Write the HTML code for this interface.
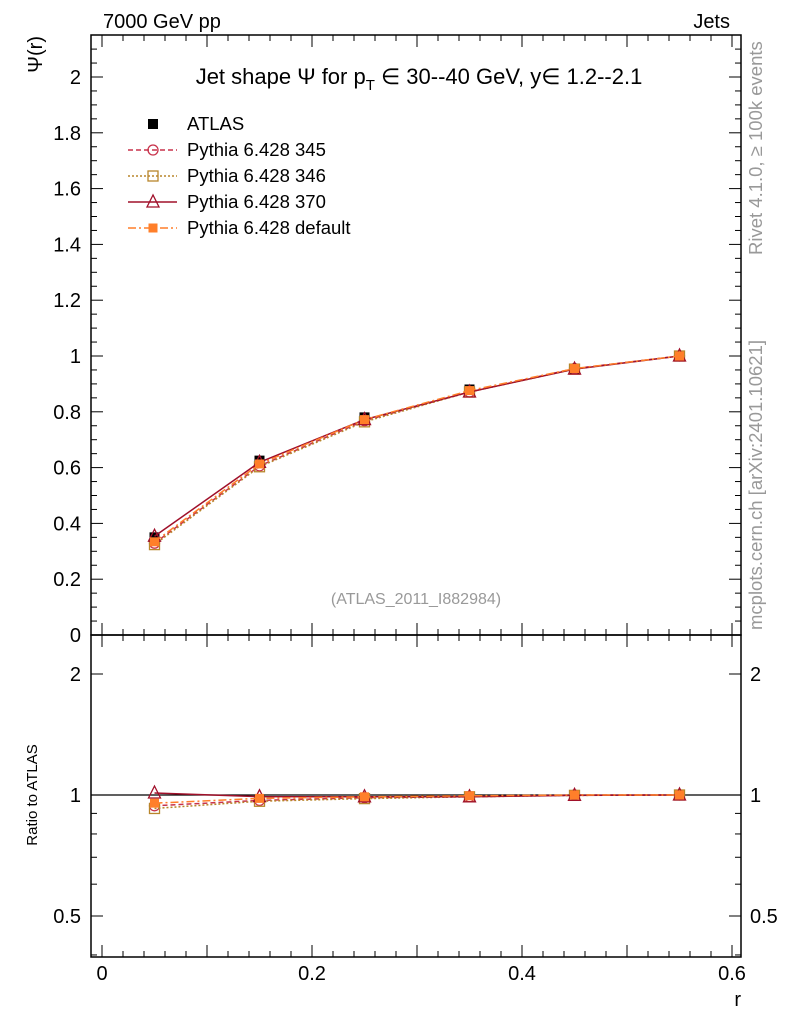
<!DOCTYPE html>
<html><head><meta charset="utf-8"><style>
body{margin:0;background:#fff}
svg text{font-family:"Liberation Sans",sans-serif}
</style></head><body>
<svg id="c" width="786" height="1024" xmlns="http://www.w3.org/2000/svg">
<text x="103" y="28" font-size="20">7000 GeV pp</text>
<text x="730" y="28" font-size="20" text-anchor="end">Jets</text>
<text x="419" y="84" font-size="22" text-anchor="middle">Jet shape Ψ for p<tspan font-size="15" dy="6">T</tspan><tspan dy="-6"> ∈ 30--40 GeV, y∈ 1.2--2.1</tspan></text>
<text transform="translate(42,36) rotate(-90)" font-size="20" text-anchor="end">Ψ(r)</text>
<text transform="translate(37,795) rotate(-90)" font-size="15" text-anchor="middle">Ratio to ATLAS</text>
<text x="741" y="1006" font-size="20" text-anchor="end">r</text>
<text transform="translate(762,255) rotate(-90)" font-size="18.5" fill="#999">Rivet 4.1.0, ≥ 100k events</text>
<text transform="translate(762,630) rotate(-90)" font-size="18.5" fill="#999">mcplots.cern.ch [arXiv:2401.10621]</text>
<text x="416" y="604" font-size="16" fill="#999" text-anchor="middle">(ATLAS_2011_I882984)</text>
<g id="axes"></g><g id="marks"></g><g id="legend"></g>
</svg>
<script>
const rVals=[0.05,0.15,0.25,0.35,0.45,0.55];
const atlas=[0.350,0.625,0.780,0.880,0.955,1.000];
const p345=[0.329,0.606,0.768,0.871,0.955,1.000];
const p346=[0.324,0.603,0.764,0.871,0.953,1.000];
const p370=[0.354,0.619,0.772,0.871,0.953,1.000];
const pdef=[0.334,0.613,0.772,0.876,0.955,1.000];
const xTickLabels=["0","0.2","0.4","0.6"];
const yTickLabels=["0","0.2","0.4","0.6","0.8","1","1.2","1.4","1.6","1.8","2"];
const rTickLabels=["0.5","1","2"];
const NS="http://www.w3.org/2000/svg";
const L=91,R=741,T=35,M=635,B=957;
const X=v=>102+v*1050, Y=v=>635-v*279, RY=v=>795-121*Math.log2(v);
function el(t,a,p){const e=document.createElementNS(NS,t);for(const k in a)e.setAttribute(k,a[k]);p.appendChild(e);return e;}
const ax=document.getElementById('axes'),mk=document.getElementById('marks'),lg=document.getElementById('legend');
let f=el('rect',{x:L,y:T,width:R-L,height:M-T,fill:'none',stroke:'#000','stroke-width':1.5},ax);

f=el('rect',{x:L,y:M,width:R-L,height:B-M,fill:'none',stroke:'#000','stroke-width':1.5},ax);

for(let i=0;i<=30;i++){const v=i*0.02,x=X(v);if(x>R)break;const maj=i%5==0;const len=maj?12:6;
 el('line',{x1:x,x2:x,y1:M,y2:M-len,stroke:'#000'},ax);el('line',{x1:x,x2:x,y1:T,y2:T+len,stroke:'#000'},ax);
 el('line',{x1:x,x2:x,y1:B,y2:B-len,stroke:'#000'},ax);el('line',{x1:x,x2:x,y1:M,y2:M+len,stroke:'#000'},ax);}
xTickLabels.forEach(s=>{const t=el('text',{x:X(+s),y:980,'font-size':20,'text-anchor':'middle'},ax);t.textContent=s;
 });
for(let i=0;i<=42;i++){const v=i*0.05,y=Y(v);if(y<T)break;const maj=i%4==0;const len=maj?12:6;
 el('line',{x1:L,x2:L+len,y1:y,y2:y,stroke:'#000'},ax);el('line',{x1:R,x2:R-len,y1:y,y2:y,stroke:'#000'},ax);}
yTickLabels.forEach(s=>{const t=el('text',{x:81,y:Y(+s)+7,'font-size':20,'text-anchor':'end'},ax);t.textContent=s;
 });
[0.4,0.5,0.6,0.7,0.8,0.9,1,2].forEach(v=>{const y=RY(v);if(y>B||y<M)return;const maj=(v==0.5||v==1||v==2);const len=maj?12:6;
 el('line',{x1:L,x2:L+len,y1:y,y2:y,stroke:'#000'},ax);el('line',{x1:R,x2:R-len,y1:y,y2:y,stroke:'#000'},ax);});
rTickLabels.forEach(s=>{const y=RY(+s)+7;let t=el('text',{x:81,y:y,'font-size':20,'text-anchor':'end'},ax);t.textContent=s;
 
 t=el('text',{x:750,y:y,'font-size':20},ax);t.textContent=s;
 });
let rl=el('line',{x1:L,x2:R,y1:RY(1),y2:RY(1),stroke:'#000','stroke-width':1.2},ax);

function marker(k,x,y,c,p){if(k=='sq')return el('rect',{x:x-5,y:y-5,width:10,height:10,fill:c},p);
 if(k=='circ')return el('circle',{cx:x,cy:y,r:5,fill:'none',stroke:c,'stroke-width':1.3},p);
 if(k=='osq')return el('rect',{x:x-5,y:y-5,width:10,height:10,fill:'none',stroke:c,'stroke-width':1.3},p);
 if(k=='tri')return el('polygon',{points:`${x},${y-7} ${x-6},${y+5} ${x+6},${y+5}`,fill:'none',stroke:c,'stroke-width':1.3},p);
 if(k=='fsq')return el('rect',{x:x-4.5,y:y-4.5,width:9,height:9,fill:c},p);}
const series=[
 {n:'Pythia 6.428 345',d:p345,c:'#c8324b',dash:'5,3',m:'circ',id:'p345'},
 {n:'Pythia 6.428 346',d:p346,c:'#b8862b',dash:'2,2',m:'osq',id:'p346'},
 {n:'Pythia 6.428 370',d:p370,c:'#a0102a',dash:'',m:'tri',id:'p370'},
 {n:'Pythia 6.428 default',d:pdef,c:'#ff7f2a',dash:'8,3,2,3',m:'fsq',id:'pdef'}];
atlas.forEach((v,i)=>{const e=marker('sq',X(rVals[i]),Y(v),'#000',mk);
 });
series.forEach(s=>{
 let pl=el('polyline',{points:s.d.map((v,i)=>X(rVals[i])+','+Y(v)).join(' '),fill:'none',stroke:s.c,'stroke-width':1.5,'stroke-dasharray':s.dash},mk);
 
 pl=el('polyline',{points:s.d.map((v,i)=>X(rVals[i])+','+RY(v/atlas[i])).join(' '),fill:'none',stroke:s.c,'stroke-width':1.5,'stroke-dasharray':s.dash},mk);
 
 s.d.forEach((v,i)=>{let e=marker(s.m,X(rVals[i]),Y(v),s.c,mk);
  
  e=marker(s.m,X(rVals[i]),RY(v/atlas[i]),s.c,mk);
  });
});
let e=marker('sq',153,124,'#000',lg);
let t=el('text',{x:187,y:130,'font-size':18.5},lg);t.textContent='ATLAS';

series.forEach((s,i)=>{const y=150+i*26;
 let l=el('line',{x1:128,x2:177,y1:y,y2:y,stroke:s.c,'stroke-width':1.5,'stroke-dasharray':s.dash},lg);
 
 let m=marker(s.m,153,y,s.c,lg);
 let tt=el('text',{x:187,y:y+6,'font-size':18.5},lg);tt.textContent=s.n;
 });
</script>
</body></html>
